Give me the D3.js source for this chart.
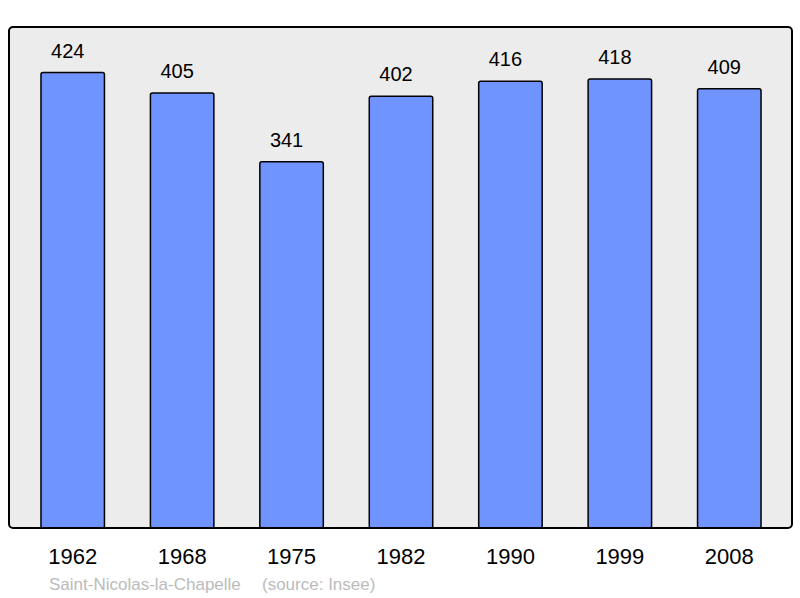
<!DOCTYPE html>
<html>
<head>
<meta charset="utf-8">
<script src="https://cdn.jsdelivr.net/npm/d3@7"></script>
<style>
  body { margin: 0; background: #fff; }
  text { font-family: "Liberation Sans", Arial, sans-serif; }
</style>
</head>
<body>
<div id="chart"></div>
<script>
// Population per census year
const years = ["1962", "1968", "1975", "1982", "1990", "1999", "2008"]
const population = [424, 405, 341, 402, 416, 418, 409]
const commune = "Saint-Nicolas-la-Chapelle"
const source = "(source: Insee)"

const width = 800, height = 598
const frame = {left: 9, top: 27, right: 792, bottom: 528}

let svg = d3.select("#chart").append("svg")
    .attr("width", width)
    .attr("height", height)

// background box
svg.append("rect")
    .attr("x", frame.left)
    .attr("y", frame.top)
    .attr("width", frame.right - frame.left)
    .attr("height", frame.bottom - frame.top)
    .attr("rx", 4)
    .attr("fill", "#ececec")

let x = d3.scaleBand()
    .domain(years)
    .range([18, 784])
    .paddingInner(0.42)
    .paddingOuter(0.21)

let y = d3.scaleLinear()
    .domain([0, d3.max(population) * 1.1])
    .range([frame.bottom, frame.top])

let data = years.map((yr, i) => ({year: yr, value: population[i]}))

// bars
svg.selectAll("rect.bar")
    .data(data)
    .enter()
    .append("rect")
    .attr("class", "bar")
    .attr("x", d => x(d.year))
    .attr("y", d => y(d.value))
    .attr("width", x.bandwidth())
    .attr("height", d => y(0) - y(d.value))
    .attr("rx", 2)
    .attr("fill", "#7094ff")
    .attr("stroke", "#000")
    .attr("stroke-width", 1.5)

// value labels (sit a little left of the bar centre, as in the original)
svg.selectAll("text.value")
    .data(data)
    .enter()
    .append("text")
    .attr("class", "value")
    .attr("x", d => x(d.year) + x.bandwidth() / 2 - 5)
    .attr("y", d => y(d.value) - 15)
    .attr("text-anchor", "middle")
    .attr("font-size", 20)
    .attr("fill", "#000")
    .text(d => d.value)

// frame border on top of bars
svg.append("rect")
    .attr("x", frame.left)
    .attr("y", frame.top)
    .attr("width", frame.right - frame.left)
    .attr("height", frame.bottom - frame.top)
    .attr("rx", 4)
    .attr("fill", "none")
    .attr("stroke", "#000")
    .attr("stroke-width", 2)

// year axis
let axis = svg.append("g")
    .attr("transform", `translate(0,${frame.bottom})`)
    .call(d3.axisBottom(x).tickSize(0).tickPadding(0))
axis.select(".domain").remove()
axis.selectAll("text")
    .attr("dy", null)
    .attr("y", 36)
    .attr("font-size", 22)
    .attr("font-family", "Liberation Sans, Arial, sans-serif")
    .attr("fill", "#000")

// footer
svg.append("text")
    .attr("x", 49)
    .attr("y", 590)
    .attr("font-size", 17)
    .attr("fill", "#bbbbbb")
    .text(commune)
svg.append("text")
    .attr("x", 262)
    .attr("y", 590)
    .attr("font-size", 17)
    .attr("fill", "#bbbbbb")
    .text(source)
</script>
</body>
</html>
